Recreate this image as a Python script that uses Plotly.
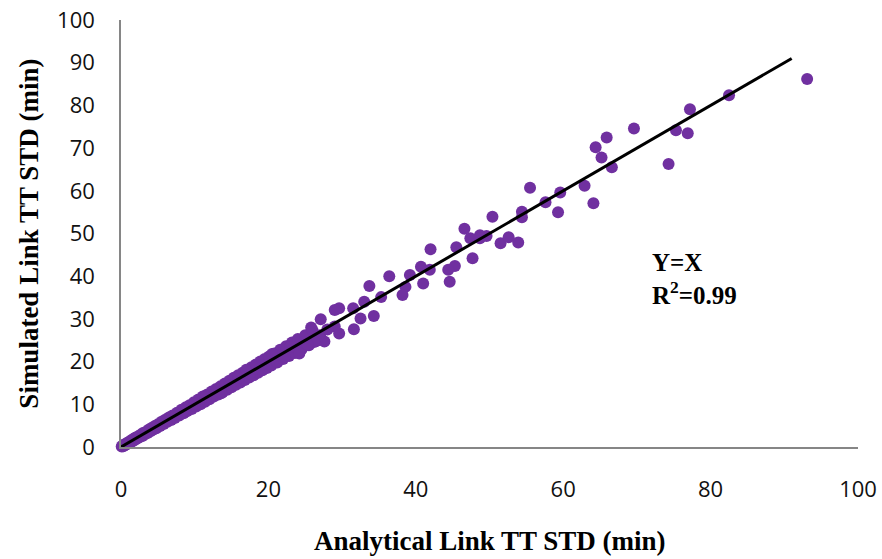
import plotly.graph_objects as go

analytical = [93.1, 82.5, 77.2, 75.3, 76.9, 74.3, 69.6, 65.9, 64.4, 65.2, 66.6, 62.9, 64.1, 55.5, 57.6, 59.6, 59.3,
              54.4, 54.4, 50.4, 49.6, 48.7, 51.5, 52.6, 53.9, 46.6, 47.4, 48.7, 45.5, 42.0, 47.7, 45.3, 44.4, 44.6,
              41.9, 40.7, 41.0, 36.4, 39.2, 38.6, 38.2, 33.7, 35.3, 34.3, 33.0, 31.5, 32.5, 31.6, 29.6, 29.0, 29.6,
              29.0, 27.1, 25.8, 27.6,
              0.1, 0.2, 0.3, 0.4, 0.5, 0.6, 0.7, 0.8, 0.9, 1.0, 1.1, 1.2, 1.3, 1.4, 1.5, 1.6, 1.7, 1.8, 1.9, 2.0,
              2.2, 2.4, 2.5, 2.7, 2.9, 3.0, 3.2, 3.4, 3.6, 3.8, 4.0, 4.2, 4.4, 4.6, 4.8, 5.0, 5.3, 5.5, 5.8, 6.0,
              6.3, 6.5, 6.8, 7.0, 7.3, 7.6, 7.9, 8.2, 8.5, 8.8, 9.0, 9.3, 9.6, 9.9, 10.2, 10.5, 10.8, 11.1, 11.4,
              11.7, 12.0, 12.3, 12.6, 12.9, 13.2, 13.5, 13.8, 14.1, 14.4, 14.7, 15.0, 15.3, 15.6, 15.9, 16.2, 16.5,
              16.8, 17.1, 17.4, 17.7, 18.0, 18.3, 18.6, 18.9, 19.2, 19.5, 19.8, 20.1, 20.4, 20.8, 21.2, 21.6, 22.0,
              22.4, 22.8, 23.2, 23.6, 24.0, 24.5, 25.0, 25.5, 26.0, 26.5, 27.0, 28.0, 22.5, 19.0, 16.0, 13.0, 10.0,
              7.5, 5.5, 3.5, 12.2, 17.5, 21.0, 24.8, 26.8, 23.0, 18.2, 14.8, 11.5, 8.5, 6.2,
              24.2, 26.2, 22.2, 20.5, 25.3, 17.0, 13.6]

simulated = [86.2, 82.4, 79.1, 74.2, 73.5, 66.3, 74.6, 72.5, 70.2, 67.8, 65.5, 61.2, 57.1, 60.7, 57.3, 59.6, 55.0,
             55.1, 53.8, 53.9, 49.4, 49.6, 47.7, 49.1, 47.9, 51.1, 48.9, 48.9, 46.8, 46.3, 44.2, 42.4, 41.5, 38.7,
             41.5, 42.2, 38.3, 40.0, 40.3, 37.5, 35.6, 37.7, 35.1, 30.7, 34.0, 32.5, 30.1, 27.6, 32.5, 32.1, 26.6,
             28.2, 29.9, 28.0, 24.7,
             0.1, 0.3, 0.2, 0.5, 0.4, 0.7, 0.6, 0.9, 0.8, 1.1, 0.9, 1.3, 1.2, 1.6, 1.3, 1.7, 1.5, 2.0, 1.7, 2.2,
             2.0, 2.6, 2.3, 2.9, 2.6, 3.3, 2.9, 3.6, 3.3, 4.1, 3.7, 4.5, 4.1, 4.9, 4.4, 5.3, 4.9, 5.9, 5.4, 6.4,
             5.9, 6.9, 6.3, 7.4, 6.8, 8.0, 7.4, 8.7, 7.9, 9.3, 8.4, 9.8, 8.9, 10.5, 9.5, 11.1, 10.0, 11.8, 10.6,
             12.3, 11.2, 13.0, 11.8, 13.6, 12.3, 14.2, 12.9, 14.9, 13.4, 15.5, 14.0, 16.2, 14.6, 16.8, 15.1, 17.4,
             15.7, 18.0, 16.3, 18.7, 16.8, 19.3, 17.4, 20.0, 18.0, 20.6, 18.5, 21.2, 19.1, 21.9, 19.8, 22.8, 20.6,
             23.6, 21.3, 24.5, 22.0, 25.3, 22.9, 26.2, 23.8, 27.3, 24.8, 26.2, 27.5, 22.8, 19.2, 16.3, 13.2, 10.1,
             7.6, 5.4, 3.5, 12.0, 17.2, 21.5, 24.5, 26.0, 23.5, 18.4, 14.5, 11.7, 8.6, 6.1,
             21.9, 24.6, 21.2, 21.8, 24.0, 18.1, 12.6]

fit_x = [0, 91]
fit_y = [0, 91]

x_ticks = [0, 20, 40, 60, 80, 100]
y_ticks = [0, 10, 20, 30, 40, 50, 60, 70, 80, 90, 100]

x_title = "Analytical Link TT STD (min)"
y_title = "Simulated Link TT STD (min)"

fig = go.Figure()
fig.add_trace(go.Scatter(x=analytical, y=simulated, mode="markers",
                         marker=dict(color="#7030A0", size=12, line=dict(width=0)),
                         showlegend=False, cliponaxis=False))
fig.add_trace(go.Scatter(x=fit_x, y=fit_y, mode="lines",
                         line=dict(color="black", width=3), showlegend=False))

title_font = dict(family="Liberation Serif", size=27, color="black")

fig.add_annotation(x=71.8, y=39.3, xref="x", yref="y", xanchor="left", yanchor="middle",
                   text="<b>Y=X<br>R<sup>2</sup>=0.99</b>", showarrow=False, align="left",
                   font=dict(family="Liberation Serif", size=25, color="black"))
fig.add_annotation(x=0.5, y=-0.22, xref="paper", yref="paper", xanchor="center", yanchor="middle",
                   text="<b>" + x_title + "</b>", showarrow=False, font=title_font)
fig.add_annotation(x=-0.126, y=0.5, xref="paper", yref="paper", xanchor="center", yanchor="middle",
                   text="<b>" + y_title + "</b>", showarrow=False, font=title_font, textangle=-90)

tick_font = dict(family="Open Sans", size=22, color="#111")

fig.update_xaxes(range=[0, 100], tickvals=x_ticks, showgrid=False, zeroline=False,
                 showline=True, linecolor="#868686", linewidth=1.5, ticks="",
                 tickfont=tick_font, ticklabelstandoff=22, automargin=False,
                 ticklabeloverflow="allow")
fig.update_yaxes(range=[0, 100], tickvals=y_ticks, showgrid=False, zeroline=False,
                 showline=True, linecolor="#868686", linewidth=1.5, ticks="",
                 tickfont=tick_font, ticklabelstandoff=20, automargin=False,
                 ticklabeloverflow="allow")

fig.update_layout(width=882, height=559, margin=dict(l=121, r=24, t=20, b=112),
                  plot_bgcolor="white", paper_bgcolor="white")

fig.write_html("out.html", config={"displayModeBar": False},
               post_script="document.body.style.margin='0';document.body.style.overflow='hidden';")
